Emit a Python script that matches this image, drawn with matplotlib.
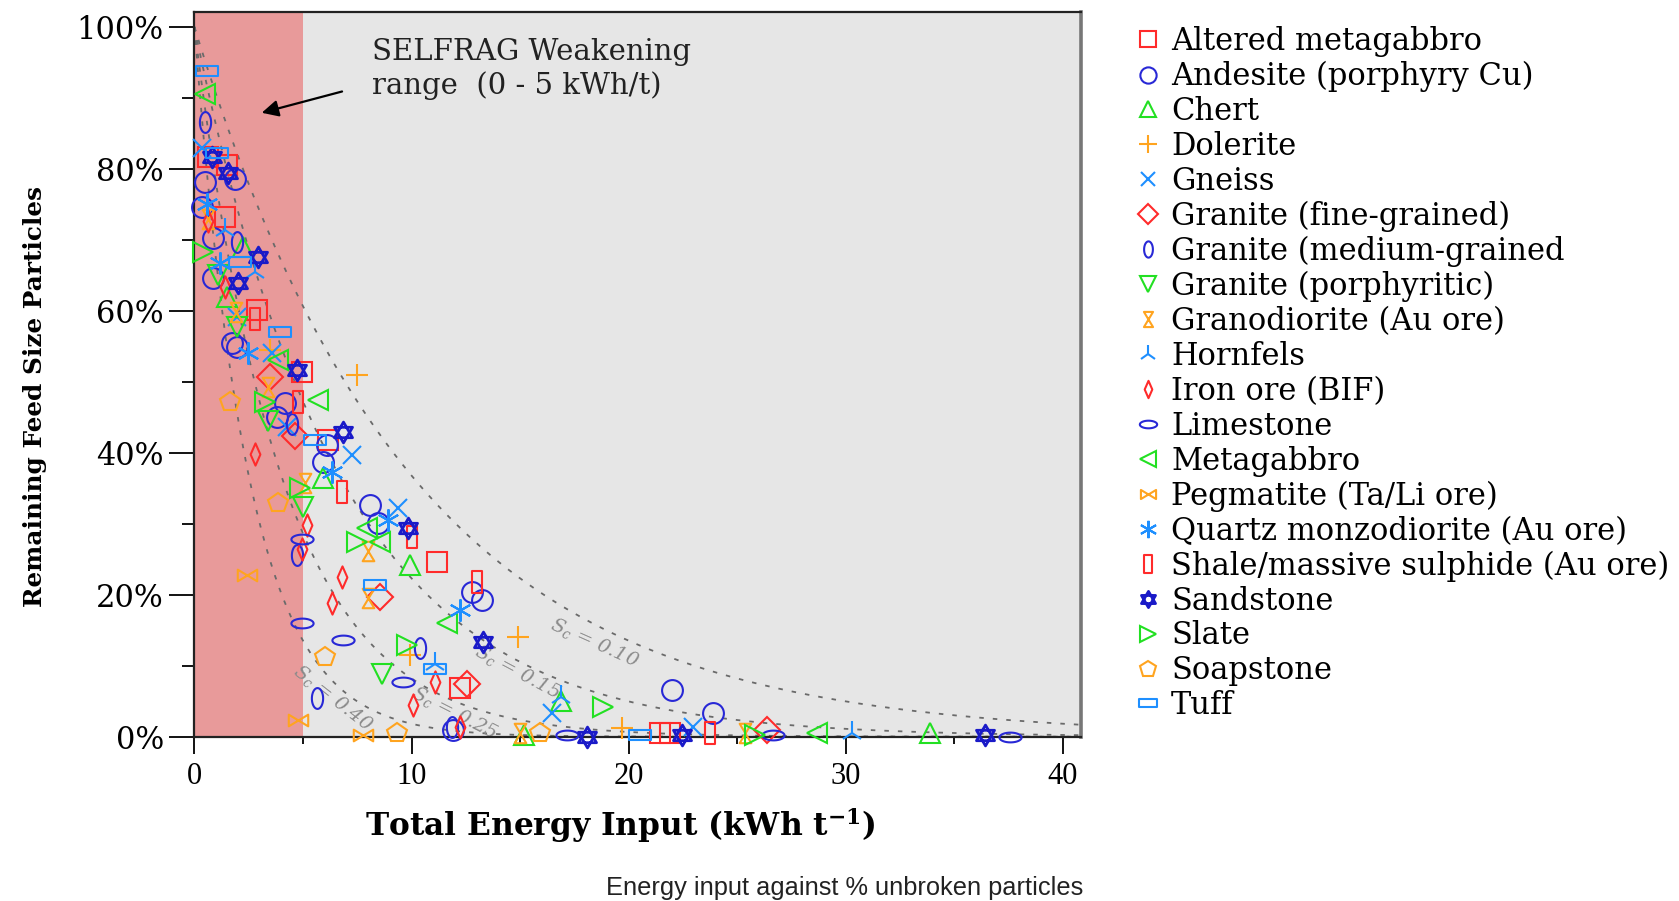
import numpy as np
import matplotlib
matplotlib.use("Agg")
import matplotlib.pyplot as plt
from matplotlib.path import Path

# (energy kWh/t, remaining feed size particles %) per rock type
altered_metagabbro = [(0.64, 81.7), (1.48, 80.5), (1.4, 73.2), (2.86, 60.1), (4.94, 51.4),
                      (6.16, 41.8), (11.16, 24.6), (12.23, 6.8), (21.44, 0.5), (21.9, 0.5)]
andesite = [(0.48, 78.2), (0.33, 74.6), (1.87, 78.6), (0.87, 70.2), (0.87, 64.6), (1.71, 55.4),
            (1.94, 54.9), (4.17, 47.0), (3.79, 45.1), (6.09, 41.1), (5.93, 38.7), (8.08, 32.6),
            (8.47, 30.1), (12.77, 20.4), (13.23, 19.3), (21.98, 6.6), (23.9, 3.3), (11.92, 0.9)]
chert = [(2.25, 69.0), (1.48, 62.0), (5.93, 36.4), (9.93, 24.2), (16.9, 5.0), (15.2, 0.3),
         (33.88, 0.5)]
dolerite = [(7.47, 50.9), (14.9, 14.1), (9.93, 11.5), (19.68, 1.2), (3.5, 54.5)]
gneiss = [(0.33, 82.9), (1.94, 59.2), (3.56, 54.0), (4.25, 43.7), (7.24, 39.7), (9.39, 32.2),
          (16.45, 3.3), (22.98, 1.4)]
granite_fine = [(3.48, 50.7), (4.63, 42.3), (8.54, 19.7), (12.54, 7.5), (26.36, 0.9)]
granite_medium = [(0.48, 86.6), (1.94, 69.7), (4.48, 44.1), (4.71, 25.6), (5.63, 5.4),
                  (10.39, 12.5), (11.85, 1.4)]
granite_porph = [(1.1, 65.0), (1.94, 57.7), (5.01, 32.4), (8.62, 8.9), (3.4, 44.5)]
granodiorite = [(0.64, 73.0), (1.9, 59.8), (3.4, 49.3), (5.09, 35.7), (8.0, 26.1), (8.0, 19.5),
                (14.99, 0.5), (25.36, 0.5)]
hornfels = [(1.4, 71.4), (2.79, 65.5), (11.08, 10.3), (16.9, 5.6), (30.27, 0.5)]
iron_ore = [(0.64, 72.7), (1.4, 63.4), (2.79, 39.9), (5.17, 29.8), (4.94, 26.5), (6.78, 22.5),
            (6.32, 18.8), (11.08, 7.7), (10.08, 4.5), (12.23, 1.4)]
limestone = [(4.94, 27.9), (4.94, 16.0), (6.85, 13.6), (9.62, 7.7), (17.14, 0.2), (26.66, 0.2),
             (37.56, 0.0)]
metagabbro = [(0.48, 90.6), (3.86, 53.1), (5.7, 47.4), (7.93, 29.4), (8.54, 27.5), (11.62, 16.0),
              (28.66, 0.5)]
pegmatite = [(2.4, 22.8), (4.78, 2.4), (7.78, 0.2)]
quartz_monzodiorite = [(0.56, 75.1), (1.17, 66.7), (2.48, 54.0), (6.32, 37.3), (8.93, 30.5),
                       (12.23, 17.8)]
shale = [(2.79, 58.9), (4.78, 47.2), (6.78, 34.5), (10.0, 28.2), (13.0, 21.8), (23.74, 0.5)]
sandstone = [(0.79, 81.7), (1.56, 79.4), (2.94, 67.6), (2.02, 63.9), (4.71, 51.6), (6.85, 43.0),
             (9.85, 29.4), (13.3, 13.4), (18.06, 0.0), (22.44, 0.2), (36.41, 0.2)]
slate = [(0.4, 68.3), (3.25, 47.2), (4.86, 35.0), (7.47, 27.5), (9.77, 12.9), (18.83, 4.2),
         (25.8, 0.3)]
soapstone = [(1.64, 47.2), (3.86, 32.9), (6.01, 11.3), (9.31, 0.5), (15.91, 0.5)]
tuff = [(0.56, 93.8), (1.02, 82.2), (2.1, 66.9), (3.94, 57.0), (5.55, 41.8), (8.31, 21.4),
        (11.08, 9.6), (20.5, 0.2)]

specific_energy = [0.10, 0.15, 0.25, 0.40]
curve_label_pos = [(18.45, 13.3, -24), (14.9, 9.1, -28), (12.0, 3.3, -27), (6.38, 5.5, -38)]

RED, BLUE, GREEN = "#ff2b2b", "#2828d6", "#22e022"
ORANGE, LBLUE, DBLUE = "#ffa41f", "#1e8fff", "#1a1ac8"


def poly(pts):
    return Path(pts + [pts[0]], [Path.MOVETO] + [Path.LINETO] * (len(pts) - 1) + [Path.CLOSEPOLY])


def ellipse(w, h):
    t = np.linspace(0, 2 * np.pi, 40)
    return Path(np.column_stack([w * np.cos(t), h * np.sin(t)]), closed=True)


ang_up = np.deg2rad([90, 210, 330])
ang_dn = np.deg2rad([270, 30, 150])
tri_a = [(np.cos(a), np.sin(a)) for a in ang_up]
tri_b = [(np.cos(a), np.sin(a)) for a in ang_dn]
hexagram = Path(tri_a + [tri_a[0]] + tri_b + [tri_b[0]],
                [1, 2, 2, 79, 1, 2, 2, 79])
hourglass = poly([(-0.3, 0.5), (0.3, 0.5), (-0.3, -0.5), (0.3, -0.5)])
bowtie = poly([(-0.5, 0.3), (-0.5, -0.3), (0.5, 0.3), (0.5, -0.3)])
tall_rect = poly([(-0.22, -0.5), (0.22, -0.5), (0.22, 0.5), (-0.22, 0.5)])
wide_rect = poly([(-0.5, -0.22), (0.5, -0.22), (0.5, 0.22), (-0.5, 0.22)])
thin_diam = poly([(0, 0.5), (0.22, 0), (0, -0.5), (-0.22, 0)])

series = [
    ("Altered metagabbro", altered_metagabbro, "s", RED, 14),
    ("Andesite (porphyry Cu)", andesite, "o", BLUE, 15),
    ("Chert", chert, "^", GREEN, 14),
    ("Dolerite", dolerite, "+", ORANGE, 16),
    ("Gneiss", gneiss, "x", LBLUE, 13),
    ("Granite (fine-grained)", granite_fine, "D", RED, 13),
    ("Granite (medium-grained", granite_medium, ellipse(0.27, 0.5), BLUE, 15),
    ("Granite (porphyritic)", granite_porph, "v", GREEN, 14),
    ("Granodiorite (Au ore)", granodiorite, hourglass, ORANGE, 14),
    ("Hornfels", hornfels, "2", LBLUE, 17),
    ("Iron ore (BIF)", iron_ore, thin_diam, RED, 16),
    ("Limestone", limestone, ellipse(0.5, 0.22), BLUE, 16),
    ("Metagabbro", metagabbro, "<", GREEN, 14),
    ("Pegmatite (Ta/Li ore)", pegmatite, bowtie, ORANGE, 14),
    ("Quartz monzodiorite (Au ore)", quartz_monzodiorite, (6, 2, 0), LBLUE, 16),
    ("Shale/massive sulphide (Au ore)", shale, tall_rect, RED, 16),
    ("Sandstone", sandstone, hexagram, DBLUE, 15),
    ("Slate", slate, ">", GREEN, 14),
    ("Soapstone", soapstone, "p", ORANGE, 15),
    ("Tuff", tuff, wide_rect, LBLUE, 16),
]

plt.rcParams["mathtext.fontset"] = "dejavuserif"
fig = plt.figure(figsize=(16.79, 9.01), dpi=100)
ax = fig.add_axes([0.1158, 0.1823, 0.528, 0.8044])
ax.set_facecolor("#e6e6e6")
ax.axvspan(0, 5, color="#e89a9a", lw=0, zorder=0)

energy_grid = np.linspace(0, 41, 400)
for s in specific_energy:
    ax.plot(energy_grid, 100 * np.exp(-s * energy_grid), color="#6a6a6a", lw=1.3,
            ls=(0, (2.5, 5)), zorder=1)
for s, (ex, ey, rot) in zip(specific_energy, curve_label_pos):
    ax.text(ex, ey, rf"$S_c$ = {s:.2f}", rotation=rot, ha="center", va="center",
            fontsize=14, color="#8a8a8a", family="DejaVu Serif", style="italic", zorder=2)

handles = []
for name, pts, marker, color, ms in series:
    xs, ys = zip(*pts)
    mew = 2.0 if name == "Sandstone" else 1.5
    (h,) = ax.plot(xs, ys, ls="none", marker=marker, ms=ms, mfc="none", mec=color,
                   mew=mew, label=name, zorder=3, clip_on=False)
    handles.append(h)

ax.set_xlim(0, 40.83)
ax.set_ylim(0, 102.1)
ax.set_xticks(range(0, 41, 10))
ax.set_xticks(range(5, 41, 10), minor=True)
ax.set_yticks(range(0, 101, 20))
ax.set_yticks(range(10, 101, 20), minor=True)
ax.set_yticklabels([f"{v}%" for v in range(0, 101, 20)], family="DejaVu Serif", fontsize=22)
ax.set_xticklabels([str(v) for v in range(0, 41, 10)], family="Liberation Serif", fontsize=22)
ax.tick_params(axis="y", which="major", length=18, width=1.3, pad=4)
ax.tick_params(axis="y", which="minor", length=9, width=1.3)
ax.tick_params(axis="x", which="major", length=12, width=1.3, pad=6)
ax.tick_params(axis="x", which="minor", length=5, width=1.3)
for side in ("left", "bottom", "top"):
    ax.spines[side].set_color("#222222")
    ax.spines[side].set_linewidth(1.6)
ax.spines["right"].set_color("#777777")
ax.spines["right"].set_linewidth(2.6)

ax.set_xlabel(r"Total Energy Input (kWh t$^{\mathbf{-1}}$)", family="DejaVu Serif",
              fontweight="bold", fontsize=22.5)
ax.xaxis.set_label_coords(0.48, -0.095)
ax.set_ylabel("Remaining Feed Size Particles", family="DejaVu Serif", fontweight="bold",
              fontsize=17.8)
ax.yaxis.set_label_coords(-0.166, 0.47)

ax.text(8.2, 98.4, "SELFRAG Weakening\nrange  (0 - 5 kWh/t)", ha="left", va="top",
        fontsize=21, family="DejaVu Serif", color="#222222", linespacing=1.2, zorder=4)
ax.annotate("", xy=(3.1, 87.9), xytext=(6.8, 90.9), zorder=4,
            arrowprops=dict(arrowstyle="-|>", color="black", lw=1.6, mutation_scale=25,
                            shrinkA=0, shrinkB=0))

fig.legend(handles=handles, loc="upper left", bbox_to_anchor=(0.6766, 0.971),
           frameon=False, prop={"family": "DejaVu Serif", "size": 22},
           handlelength=0.8, handletextpad=0.35, labelspacing=0.127, borderpad=0,
           borderaxespad=0, markerscale=0.78)

fig.text(0.6454, 0.0144, "Energy input against % unbroken particles", family="Liberation Sans",
         fontsize=18.3, ha="right", va="center", color="#222222")

fig.savefig("out.png", dpi=100)
